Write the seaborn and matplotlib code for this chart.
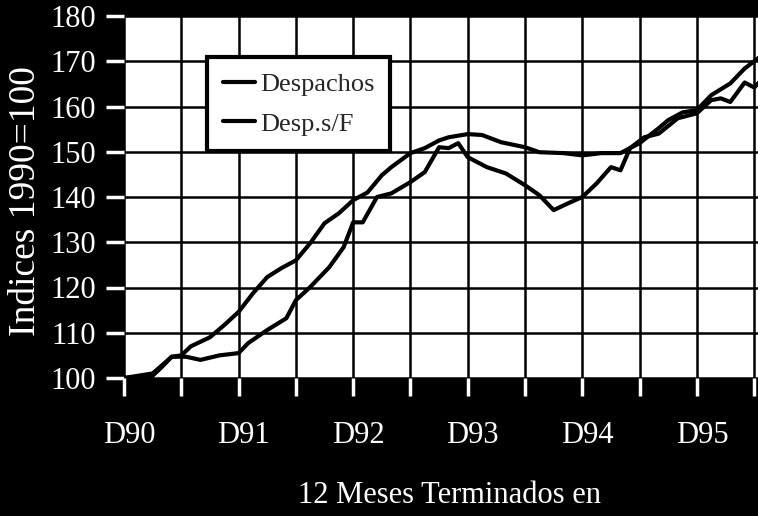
import matplotlib
matplotlib.use("Agg")
import matplotlib.pyplot as plt
import matplotlib.transforms as mtransforms
import pandas as pd
import seaborn as sns

# months since Dec-90
DESP_MONTHS = [0, 3, 5, 6, 7, 9, 10.5, 12, 13.5, 15, 16.5, 18, 19.5, 21, 22.5, 24,
               25.5, 27, 28, 30, 31.5, 33, 34, 36, 37.5, 39.5, 42, 43.5, 46, 48,
               50, 52, 54, 56, 57, 58.5, 60, 61.5, 63.5, 65, 66.5]
DESP_VALUES = [100, 101, 104.7, 105, 107, 109, 111.7, 114.6, 118.7, 122.3, 124.3,
               126, 129.8, 134.2, 136.4, 139.3, 141, 144.8, 146.6, 149.7, 150.8,
               152.5, 153.2, 153.9, 153.7, 152.1, 151, 149.9, 149.7, 149.2, 149.7,
               149.7, 151.9, 155.2, 157, 158.7, 159.2, 162.5, 165.1, 168.4, 170.8]

DESPF_MONTHS = [0, 3, 4, 5, 6.5, 8, 10, 12, 13, 15, 17, 18, 19.5, 21.5, 23, 24, 25,
                26.5, 28, 30, 31.5, 33, 34, 35, 36, 38, 40, 42, 43.5, 45, 46.5, 48,
                49.5, 51, 52, 53, 54.5, 56, 58, 60, 61.5, 62.5, 63.5, 65, 66, 66.5]
DESPF_VALUES = [100, 100.5, 102.5, 104.7, 104.7, 104, 105, 105.5, 107.7, 110.6,
                113.2, 117.2, 120.1, 124.5, 128.9, 134.4, 134.4, 140, 140.8, 143.3,
                145.5, 151, 150.8, 151.9, 148.8, 146.6, 145.2, 142.6, 140.4, 137.1,
                138.6, 140, 143, 146.6, 145.9, 150.8, 153.2, 154, 157.4, 158.5,
                161.4, 161.8, 161, 165.3, 164.2, 165.3]

SERIES = ["Despachos", "Desp.s/F"]
YEAR_LABELS = ["D90", "D91", "D92", "D93", "D94", "D95"]

df = pd.concat([
    pd.DataFrame({"mes": DESP_MONTHS, "indice": DESP_VALUES, "serie": SERIES[0]}),
    pd.DataFrame({"mes": DESPF_MONTHS, "indice": DESPF_VALUES, "serie": SERIES[1]}),
])

sns.set_style("white")
plt.rcParams["font.family"] = ["Liberation Serif", "DejaVu Serif"]

fig = plt.figure(figsize=(7.58, 5.16), dpi=100, facecolor="black")
ax = fig.add_axes([124 / 758, 1 - 378 / 516, 1 - 124 / 758, 362 / 516])
ax.set_facecolor("white")

sns.lineplot(data=df, x="mes", y="indice", hue="serie",
             palette=["black", "black"], linewidth=3, ax=ax, zorder=3)

ax.set_xlim(0, 66.4)
ax.set_ylim(100, 180)
ax.set_yticks(range(100, 181, 10))
ax.set_xticks(range(0, 67, 6))
ax.set_xticklabels([YEAR_LABELS[i // 2] if i % 2 == 0 else "" for i in range(12)])
ax.grid(True, color="black", linewidth=1.8)
for s in ax.spines.values():
    s.set_visible(False)

ax.tick_params(axis="both", bottom=True, left=True, direction="out",
               colors="white", width=2.5, length=13, labelsize=22)
ax.tick_params(axis="x", pad=18, labelsize=22)
ax.tick_params(axis="y", pad=7)
shift = mtransforms.ScaledTranslation(0.05, 0, fig.dpi_scale_trans)
for lab in ax.get_xticklabels():
    lab.set_transform(lab.get_transform() + shift)

ax.set_xlabel("12 Meses Terminados en", color="white", fontsize=22)
ax.xaxis.set_label_coords(0.514, -0.285)
ax.set_ylabel("Indices 1990=100", color="white", fontsize=27)
ax.yaxis.set_label_coords(-0.128, 0.49)

leg = ax.legend(loc="upper left", bbox_to_anchor=(0.131, 0.887), title=None,
                fontsize=19, frameon=True, fancybox=False, handlelength=1.2,
                handletextpad=0.2, borderpad=0.6, labelspacing=0.6,
                borderaxespad=0)
leg.get_frame().set_edgecolor("black")
leg.get_frame().set_linewidth(3)
leg.get_frame().set_alpha(1)

plt.savefig("out.png", dpi=100, facecolor="black")
